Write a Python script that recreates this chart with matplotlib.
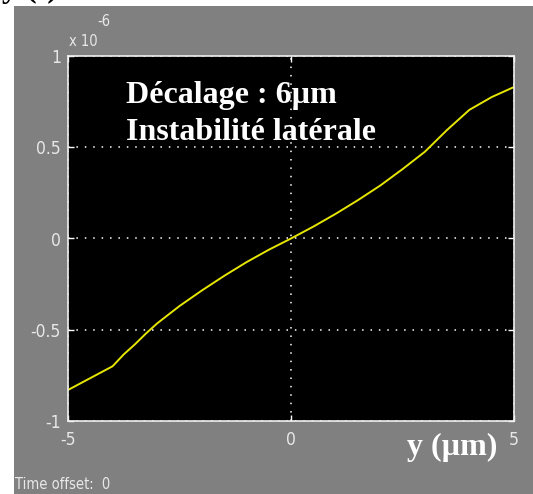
import matplotlib
matplotlib.use("Agg")
import matplotlib.pyplot as plt
from matplotlib.patches import Rectangle
from matplotlib import font_manager

plt.rcParams['axes.unicode_minus'] = False

# position y (um) vs force (x 1e-6)
pos = [-5, -4.5, -4, -3.75, -3.5, -3.25, -3, -2.5, -2, -1.5, -1, -0.5, 0,
       0.5, 1, 1.5, 2, 2.5, 3, 3.25, 3.5, 3.75, 4, 4.5, 5]
val = [-0.83, -0.765, -0.70, -0.635, -0.58, -0.52, -0.465, -0.37, -0.285, -0.205, -0.13, -0.062, 0,
       0.065, 0.135, 0.21, 0.29, 0.38, 0.475, 0.535, 0.595, 0.65, 0.705, 0.775, 0.83]
xticks = [-5, 0, 5]
yticks = [-1, -0.5, 0, 0.5, 1]
ylabels = ['-1', '-0.5', '0', '0.5', '1']

W, H = 533, 494
cond = font_manager.FontProperties(family='DejaVu Sans', stretch='condensed')
serif = ['Liberation Serif', 'DejaVu Serif']
grey = '#808080'
lite = '#e8e8e8'

fig = plt.figure(figsize=(W/100, H/100), dpi=100, facecolor='white')

# cut-off title at top left, mostly hidden by the grey panel
fig.text(2/W, 1 + 3/H, 'y (t)', family=serif, weight='bold', fontsize=23,
         color='black', ha='left', va='baseline', zorder=0)
fig.patches.append(Rectangle((14/W, 0), 1 - 14/W, 1 - 6/H, transform=fig.transFigure,
                             facecolor=grey, edgecolor='none', zorder=1))

ax = fig.add_axes([68/W, 1 - 421/H, (514 - 68)/W, (421 - 56)/H], zorder=2)
ax.set_facecolor('black')
ax.plot(pos, val, color='#e6e600', lw=1.4)

ax.set_xlim(-5, 5)
ax.set_ylim(-1, 1)
ax.set_xticks(xticks)
ax.set_yticks(yticks)
ax.set_yticklabels(ylabels)
ax.grid(True, color='white', linestyle=(0, (1, 4.5)), linewidth=1.1)
ax.tick_params(direction='in', length=4, width=1, color='white',
               top=True, right=True, labelcolor=lite, labelsize=12.5)
ax.tick_params(axis='x', pad=7)
ax.tick_params(axis='y', pad=5)
for lab in ax.get_xticklabels() + ax.get_yticklabels():
    lab.set_fontproperties(cond)
    lab.set_fontsize(12.5)
for s in ax.spines.values():
    s.set_color('#f0f0f0')
    s.set_linewidth(1.2)

# exponent marker
fig.text(69/W, 1 - 46/H, 'x 10', fontproperties=cond, fontsize=10.5, color=lite,
         ha='left', va='baseline')
fig.text(97/W, 1 - 26/H, '-6', fontproperties=cond, fontsize=10.5, color=lite,
         ha='left', va='baseline')

ax.text(126/W, 1 - 103/H, 'Décalage : 6µm', transform=fig.transFigure,
        family=serif, weight='bold', fontsize=23, color='white', va='baseline')
ax.text(126/W, 1 - 140/H, 'Instabilité latérale', transform=fig.transFigure,
        family=serif, weight='bold', fontsize=23, color='white', va='baseline')

fig.text(407/W, 1 - 455/H, 'y (µm)', family=serif, weight='bold', fontsize=23,
         color='white', ha='left', va='baseline', zorder=3)
fig.text(15/W, 1 - 489/H, 'Time offset:  0', fontproperties=cond, fontsize=10.5,
         color=lite, ha='left', va='baseline', zorder=3)

fig.savefig('out.png', dpi=100, facecolor='white')
